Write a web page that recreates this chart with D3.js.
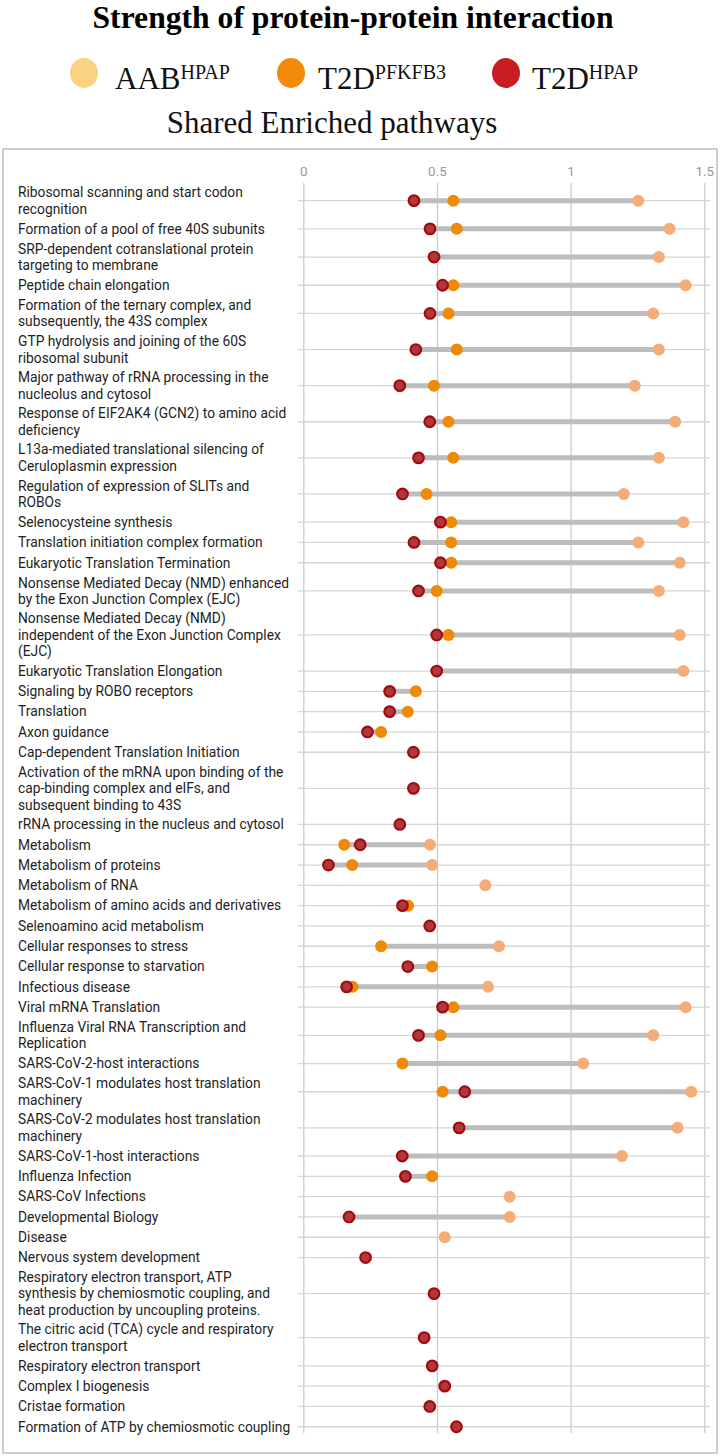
<!DOCTYPE html>
<html>
<head>
<meta charset="utf-8">
<script src="https://cdn.jsdelivr.net/npm/d3@7"></script>
<style>
  html, body { margin: 0; padding: 0; background: #fff; }
  svg { display: block; }
</style>
</head>
<body>
<svg id="chart" width="725" height="1456"></svg>
<script>
// ---------------- DATA ----------------
const categories = [
  "Ribosomal scanning and start codon\nrecognition",
  "Formation of a pool of free 40S subunits",
  "SRP-dependent cotranslational protein\ntargeting to membrane",
  "Peptide chain elongation",
  "Formation of the ternary complex, and\nsubsequently, the 43S complex",
  "GTP hydrolysis and joining of the 60S\nribosomal subunit",
  "Major pathway of rRNA processing in the\nnucleolus and cytosol",
  "Response of EIF2AK4 (GCN2) to amino acid\ndeficiency",
  "L13a-mediated translational silencing of\nCeruloplasmin expression",
  "Regulation of expression of SLITs and\nROBOs",
  "Selenocysteine synthesis",
  "Translation initiation complex formation",
  "Eukaryotic Translation Termination",
  "Nonsense Mediated Decay (NMD) enhanced\nby the Exon Junction Complex (EJC)",
  "Nonsense Mediated Decay (NMD)\nindependent of the Exon Junction Complex\n(EJC)",
  "Eukaryotic Translation Elongation",
  "Signaling by ROBO receptors",
  "Translation",
  "Axon guidance",
  "Cap-dependent Translation Initiation",
  "Activation of the mRNA upon binding of the\ncap-binding complex and eIFs, and\nsubsequent binding to 43S",
  "rRNA processing in the nucleus and cytosol",
  "Metabolism",
  "Metabolism of proteins",
  "Metabolism of RNA",
  "Metabolism of amino acids and derivatives",
  "Selenoamino acid metabolism",
  "Cellular responses to stress",
  "Cellular response to starvation",
  "Infectious disease",
  "Viral mRNA Translation",
  "Influenza Viral RNA Transcription and\nReplication",
  "SARS-CoV-2-host interactions",
  "SARS-CoV-1 modulates host translation\nmachinery",
  "SARS-CoV-2 modulates host translation\nmachinery",
  "SARS-CoV-1-host interactions",
  "Influenza Infection",
  "SARS-CoV Infections",
  "Developmental Biology",
  "Disease",
  "Nervous system development",
  "Respiratory electron transport, ATP\nsynthesis by chemiosmotic coupling, and\nheat production by uncoupling proteins.",
  "The citric acid (TCA) cycle and respiratory\nelectron transport",
  "Respiratory electron transport",
  "Complex I biogenesis",
  "Cristae formation",
  "Formation of ATP by chemiosmotic coupling"
];

const aabHPAP = [
  1.253, 1.370, 1.330, 1.430, 1.309, 1.330, 1.240, 1.391, 1.330, 1.199,
  1.422, 1.253, 1.408, 1.330, 1.408, 1.422, null, null, null, null,
  null, null, 0.474, 0.482, 0.681, null, null, 0.732, null, 0.691,
  1.430, 1.309, 1.047, 1.451, 1.400, 1.192, null, 0.772, 0.772, 0.529,
  null, null, null, null, null, null, null
];

const t2dPFKFB3 = [
  0.561, 0.574, null, 0.561, 0.543, 0.574, 0.489, 0.543, 0.561, 0.461,
  0.553, 0.553, 0.553, 0.499, 0.543, null, 0.421, 0.391, 0.291, null,
  null, null, 0.153, 0.183, null, 0.392, null, 0.291, 0.482, 0.184,
  0.561, 0.513, 0.371, 0.521, null, null, 0.482, null, null, null,
  null, null, null, null, null, null, null
];

const t2dHPAP = [
  0.414, 0.474, 0.489, 0.521, 0.474, 0.421, 0.361, 0.473, 0.431, 0.371,
  0.513, 0.414, 0.513, 0.431, 0.499, 0.499, 0.323, 0.323, 0.240, 0.412,
  0.412, 0.361, 0.213, 0.094, null, 0.371, 0.473, null, 0.391, 0.162,
  0.521, 0.431, null, 0.604, 0.583, 0.370, 0.382, null, 0.171, null,
  0.233, 0.489, 0.452, 0.482, 0.529, 0.473, 0.573
];

const xTicks = [0, 0.5, 1, 1.5];
const xTickLabels = ["0", "0.5", "1", "1.5"];

const seriesNames = ["AAB", "T2D", "T2D"];
const seriesSups = ["HPAP", "PFKFB3", "HPAP"];

// ---------------- LAYOUT ----------------
const svg = d3.select("#chart");
const serif = "'Liberation Serif', 'Times New Roman', serif";
const sans = "Roboto, 'Noto Sans', Arial, sans-serif";

const dotColors = ["#f5ad78", "#ee8a06", "#b0383d"];
const legendColors = ["#fbd27f", "#f38b0a", "#c91d22"];

// Title
svg.append("text")
  .attr("x", 353).attr("y", 28)
  .attr("text-anchor", "middle")
  .attr("font-family", serif).attr("font-weight", "bold")
  .attr("font-size", 32)
  .attr("textLength", 521).attr("lengthAdjust", "spacingAndGlyphs")
  .attr("fill", "#000")
  .text("Strength of protein-protein interaction");

// Legend
const legendX = [84, 291, 506];
const legendTextX = [115, 318, 532];
const legend = svg.append("g");
seriesNames.forEach((name, i) => {
  legend.append("ellipse")
    .attr("cx", legendX[i]).attr("cy", 73)
    .attr("rx", 14).attr("ry", 15)
    .attr("fill", legendColors[i]);
  const t = legend.append("text")
    .attr("x", legendTextX[i]).attr("y", 89)
    .attr("font-family", serif).attr("font-size", 31)
    .attr("fill", "#111");
  t.append("tspan").text(name);
  t.append("tspan").attr("font-size", 20).attr("dy", -10).text(seriesSups[i]);
});

// Subtitle
svg.append("text")
  .attr("x", 332).attr("y", 133)
  .attr("text-anchor", "middle")
  .attr("font-family", serif).attr("font-size", 31)
  .attr("fill", "#111")
  .text("Shared Enriched pathways");

// Frame
svg.append("rect")
  .attr("x", 3).attr("y", 149).attr("width", 714).attr("height", 1304)
  .attr("fill", "none").attr("stroke", "#cfcfcf").attr("stroke-width", 2);

// Scales
const x = d3.scaleLinear().domain([0, 1.5]).range([303.3, 704.3]);

// Row positions (variable height depending on label lines)
const lineCounts = categories.map(c => c.split("\n").length);
const rowH = n => 4.5 + 15.8 * n;
const rowY = [];
let cursor = 182.6;
lineCounts.forEach(n => { rowY.push(cursor + rowH(n) / 2); cursor += rowH(n); });
const y = d3.scaleOrdinal().domain(categories).range(rowY);

const plotTop = 183, plotBottom = 1433;

// Vertical gridlines via axis
const gx = svg.append("g")
  .attr("transform", `translate(0,${plotTop})`)
  .call(d3.axisTop(x).tickValues(xTicks).tickFormat((d, i) => xTickLabels[i])
    .tickSize(-(plotBottom - plotTop)).tickPadding(7));
gx.select(".domain").remove();
gx.selectAll(".tick line").attr("stroke", "#cccccc").attr("stroke-width", 1.3);
gx.selectAll(".tick text")
  .attr("font-family", sans).attr("font-size", 13.5).attr("fill", "#9a9a9a");

// Horizontal row lines
svg.append("g").selectAll("line").data(categories).join("line")
  .attr("x1", 298).attr("x2", 710)
  .attr("y1", d => y(d)).attr("y2", d => y(d))
  .attr("stroke", "#d6d6d6").attr("stroke-width", 1.3);

// Labels
const labels = svg.append("g");
categories.forEach(c => {
  const lines = c.split("\n");
  const lh = 16.4;
  const t = labels.append("text")
    .attr("font-family", sans).attr("font-size", 13.8).attr("fill", "#1e1e1e");
  lines.forEach((ln, j) => {
    t.append("tspan")
      .attr("x", 18)
      .attr("y", y(c) + (j - (lines.length - 1) / 2) * lh + 4.8)
      .text(ln);
  });
});

// Connectors (min to max of available values)
const rows = categories.map((c, i) => {
  const vals = [aabHPAP[i], t2dPFKFB3[i], t2dHPAP[i]].filter(v => v != null);
  return { c, min: d3.min(vals), max: d3.max(vals), n: vals.length };
});
svg.append("g").selectAll("line").data(rows.filter(r => r.n > 1)).join("line")
  .attr("x1", r => x(r.min)).attr("x2", r => x(r.max))
  .attr("y1", r => y(r.c)).attr("y2", r => y(r.c))
  .attr("stroke", "#bdbdbd").attr("stroke-width", 5);

// Dots
const series = [aabHPAP, t2dPFKFB3, t2dHPAP];
series.forEach((arr, s) => {
  const pts = categories.map((c, i) => ({ c, v: arr[i] })).filter(d => d.v != null);
  svg.append("g").selectAll("circle").data(pts).join("circle")
    .attr("cx", d => x(d.v)).attr("cy", d => y(d.c))
    .attr("r", s === 2 ? 5.3 : 6)
    .attr("fill", dotColors[s])
    .attr("stroke", s === 2 ? "#a10c10" : "none")
    .attr("stroke-width", s === 2 ? 2.2 : 0);
});
</script>
</body>
</html>
